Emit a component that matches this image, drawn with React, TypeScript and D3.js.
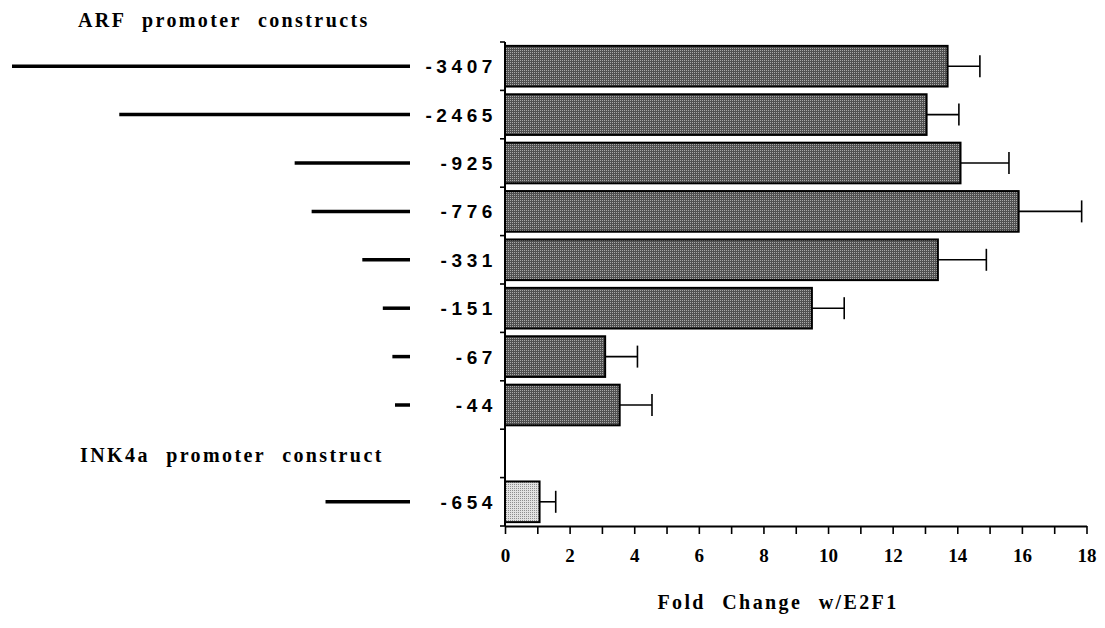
import * as d3 from "d3";
import React, { useRef, useEffect } from "react";

// constructs, top to bottom ("gap" is the empty slot before INK4a)
const slots = ["-3407", "-2465", "-925", "-776", "-331", "-151", "-67", "-44", "gap", "-654"];
const arfConstructs = ["-3407", "-2465", "-925", "-776", "-331", "-151", "-67", "-44"];
const arfFold = [13.7, 13.05, 14.1, 15.9, 13.4, 9.5, 3.1, 3.55];
const arfErr = [1.0, 1.0, 1.5, 1.95, 1.5, 1.0, 1.0, 1.0];
const ink4aConstructs = ["-654"];
const ink4aFold = [1.07];
const ink4aErr = [0.5];
const xTicks = [0, 2, 4, 6, 8, 10, 12, 14, 16, 18];

function App() {
  const svgRef = useRef<SVGSVGElement>(null);

  useEffect(() => {
    const svg = d3.select(svgRef.current);
    svg.selectAll("*").remove();

    const width = 1105;
    const height = 628;
    svg.attr("width", width).attr("height", height);

    // stipple patterns for the bars
    const defs = svg.append("defs");
    const addPattern = (id: string, base: string, dot: string) => {
      const p = defs
        .append("pattern")
        .attr("id", id)
        .attr("width", 2)
        .attr("height", 2)
        .attr("patternUnits", "userSpaceOnUse");
      p.append("rect").attr("width", 2).attr("height", 2).attr("fill", base);
      p.append("rect").attr("width", 1).attr("height", 1).attr("fill", dot);
    };
    addPattern("darkDots", "#505050", "#a8a8a8");
    addPattern("lightDots", "#e2e2e2", "#8e8e8e");

    const x = d3.scaleLinear().domain([0, 18]).range([505, 1086.5]);
    const y = d3
      .scaleBand()
      .domain(slots)
      .range([42, 526])
      .paddingInner(0.16)
      .paddingOuter(0.08);
    const step = y.step();
    const rowMid = (k: string) => (y(k) as number) + y.bandwidth() / 2;

    // promoter fragment lengths drawn as lines
    const lineLen = d3.scaleLinear().domain([0, 3407]).range([10, 398]);

    const rows = [
      ...arfConstructs.map((c, i) => ({ c, v: arfFold[i], e: arfErr[i], fill: "url(#darkDots)" })),
      ...ink4aConstructs.map((c, i) => ({ c, v: ink4aFold[i], e: ink4aErr[i], fill: "url(#lightDots)" })),
    ];

    const font = "'Liberation Serif', 'Times New Roman', serif";

    // group headings
    const heading = (tx: number, ty: number, label: string) =>
      svg
        .append("text")
        .attr("x", tx)
        .attr("y", ty)
        .attr("font-family", font)
        .attr("font-weight", "bold")
        .attr("font-size", 20)
        .attr("letter-spacing", 2.4)
        .attr("word-spacing", 9)
        .text(label);
    heading(78, 27, "ARF promoter constructs");
    heading(80, 462, "INK4a promoter construct");

    // fragment lines
    svg
      .append("g")
      .selectAll("line")
      .data(rows)
      .enter()
      .append("line")
      .attr("x1", (d) => 410 - lineLen(-Number(d.c)))
      .attr("x2", 410)
      .attr("y1", (d) => rowMid(d.c))
      .attr("y2", (d) => rowMid(d.c))
      .attr("stroke", "black")
      .attr("stroke-width", 3.5);

    // construct labels
    svg
      .append("g")
      .selectAll("text")
      .data(rows)
      .enter()
      .append("text")
      .attr("x", 497)
      .attr("y", (d) => rowMid(d.c) + 7)
      .attr("text-anchor", "end")
      .attr("font-family", "'Liberation Sans', Arial, sans-serif")
      .attr("font-weight", "bold")
      .attr("font-size", 19)
      .attr("letter-spacing", 4.6)
      .text((d) => d.c);

    // error bars (behind bars)
    const eb = svg.append("g").attr("stroke", "black").attr("stroke-width", 1.6);
    rows.forEach((d) => {
      const cy = rowMid(d.c);
      eb.append("line").attr("x1", x(d.v)).attr("x2", x(d.v + d.e)).attr("y1", cy).attr("y2", cy);
      eb.append("line")
        .attr("x1", x(d.v + d.e))
        .attr("x2", x(d.v + d.e))
        .attr("y1", cy - 11)
        .attr("y2", cy + 11);
    });

    // bars
    svg
      .append("g")
      .selectAll("rect")
      .data(rows)
      .enter()
      .append("rect")
      .attr("x", x(0))
      .attr("y", (d) => y(d.c) as number)
      .attr("width", (d) => x(d.v) - x(0))
      .attr("height", y.bandwidth())
      .attr("fill", (d) => d.fill)
      .attr("stroke", "black")
      .attr("stroke-width", 2);

    // y axis with ticks at row boundaries
    const yAxis = svg.append("g").attr("stroke", "black");
    yAxis.append("line").attr("x1", 505).attr("x2", 505).attr("y1", 42).attr("y2", 526).attr("stroke-width", 2);
    d3.range(slots.length + 1).forEach((k) => {
      const ty = 42 + k * step;
      yAxis.append("line").attr("x1", 500).attr("x2", 505).attr("y1", ty).attr("y2", ty).attr("stroke-width", 1.6);
    });

    // x axis: ticks every unit, labels every 2
    const xAxis = svg
      .append("g")
      .attr("transform", "translate(0,526)")
      .call(
        d3
          .axisBottom(x)
          .tickValues(d3.range(0, 19))
          .tickSize(8)
          .tickSizeOuter(0)
          .tickFormat((d) => (xTicks.includes(d as number) ? String(d) : ""))
      );
    xAxis.select(".domain").attr("stroke-width", 2);
    xAxis.selectAll(".tick line").attr("stroke-width", 1.6);
    xAxis
      .selectAll(".tick text")
      .attr("y", 23)
      .attr("dy", "0.71em")
      .attr("font-family", font)
      .attr("font-weight", "bold")
      .attr("font-size", 19)
      .attr("fill", "black");

    svg
      .append("text")
      .attr("x", 778)
      .attr("y", 609)
      .attr("text-anchor", "middle")
      .attr("font-family", font)
      .attr("font-weight", "bold")
      .attr("font-size", 20)
      .attr("letter-spacing", 2.4)
      .attr("word-spacing", 9)
      .text("Fold Change w/E2F1");
  }, []);

  return (
    <div style={{ position: "absolute", left: 0, top: 0, width: 1105, height: 628, background: "white" }}>
      <svg ref={svgRef} style={{ display: "block" }} />
    </div>
  );
}

export default App;
